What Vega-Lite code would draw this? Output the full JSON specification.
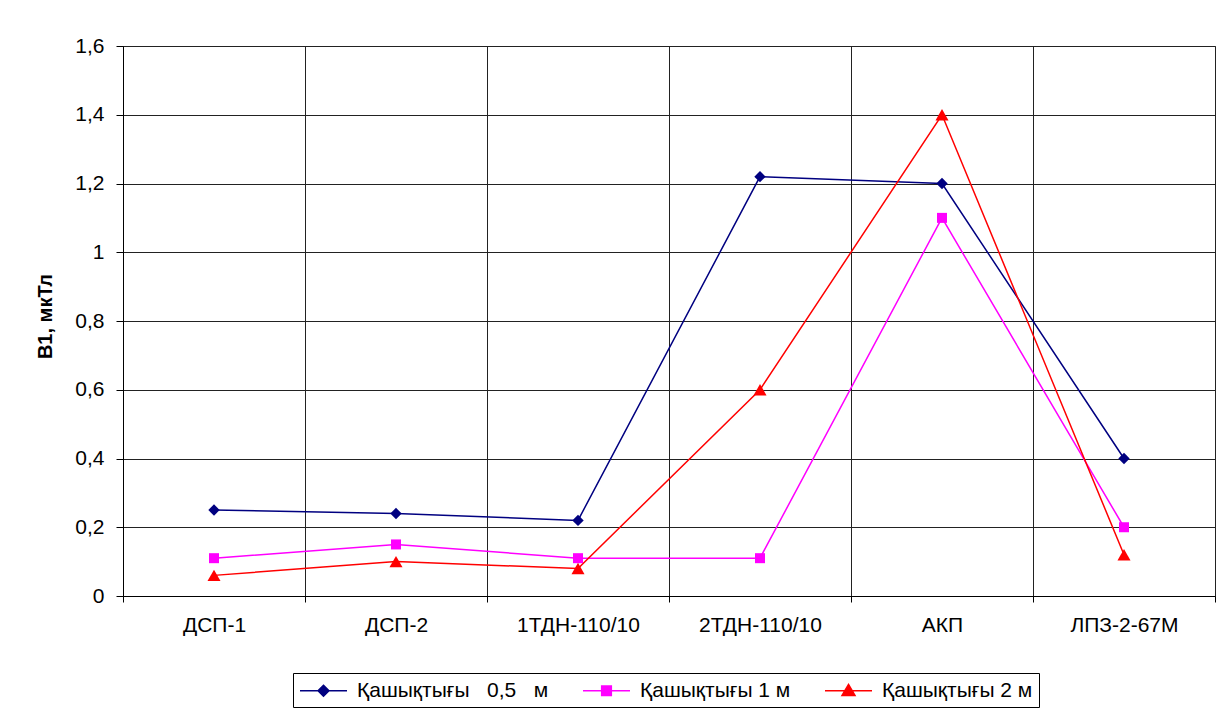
{
  "$schema": "https://vega.github.io/schema/vega-lite/v6.json",
  "width": 1092,
  "height": 550,
  "autosize": {"type": "none"},
  "padding": {"left": 123, "top": 46, "right": 6, "bottom": 112},
  "background": "white",
  "config": {
    "font": "Liberation Sans",
    "view": {"stroke": "#555555", "strokeWidth": 1}
  },
  "data": {
    "values": [
      {"cat": "ДСП-1", "series": "Қашықтығы  0,5  м", "value": 0.25},
      {"cat": "ДСП-2", "series": "Қашықтығы  0,5  м", "value": 0.24},
      {"cat": "1ТДН-110/10", "series": "Қашықтығы  0,5  м", "value": 0.22},
      {"cat": "2ТДН-110/10", "series": "Қашықтығы  0,5  м", "value": 1.22},
      {"cat": "АКП", "series": "Қашықтығы  0,5  м", "value": 1.2},
      {"cat": "ЛПЗ-2-67М", "series": "Қашықтығы  0,5  м", "value": 0.4},
      {"cat": "ДСП-1", "series": "Қашықтығы 1 м", "value": 0.11},
      {"cat": "ДСП-2", "series": "Қашықтығы 1 м", "value": 0.15},
      {"cat": "1ТДН-110/10", "series": "Қашықтығы 1 м", "value": 0.11},
      {"cat": "2ТДН-110/10", "series": "Қашықтығы 1 м", "value": 0.11},
      {"cat": "АКП", "series": "Қашықтығы 1 м", "value": 1.1},
      {"cat": "ЛПЗ-2-67М", "series": "Қашықтығы 1 м", "value": 0.2},
      {"cat": "ДСП-1", "series": "Қашықтығы 2 м", "value": 0.06},
      {"cat": "ДСП-2", "series": "Қашықтығы 2 м", "value": 0.1},
      {"cat": "1ТДН-110/10", "series": "Қашықтығы 2 м", "value": 0.08},
      {"cat": "2ТДН-110/10", "series": "Қашықтығы 2 м", "value": 0.6},
      {"cat": "АКП", "series": "Қашықтығы 2 м", "value": 1.4},
      {"cat": "ЛПЗ-2-67М", "series": "Қашықтығы 2 м", "value": 0.12}
    ]
  },
  "encoding": {
    "x": {
      "field": "cat",
      "type": "nominal",
      "sort": ["ДСП-1", "ДСП-2", "1ТДН-110/10", "2ТДН-110/10", "АКП", "ЛПЗ-2-67М"],
      "scale": {"type": "band", "paddingInner": 0, "paddingOuter": 0},
      "axis": {
        "title": null,
        "labelAngle": 0,
        "tickBand": "extent",
        "grid": true,
        "gridColor": "#222222",
        "gridOpacity": 1,
        "domainColor": "#000000",
        "tickColor": "#000000",
        "tickSize": 6,
        "labelFontSize": 21,
        "labelColor": "#000000",
        "labelPadding": 12
      }
    },
    "y": {
      "field": "value",
      "type": "quantitative",
      "scale": {"domain": [0, 1.6], "nice": false, "zero": true},
      "axis": {
        "title": "В1, мкТл",
        "titleFontSize": 20,
        "titleFontWeight": "bold",
        "titleColor": "#000000",
        "titleX": -78,
        "titleY": 270,
        "titleAngle": -90,
        "titleAlign": "center",
        "titleBaseline": "middle",
        "values": [0, 0.2, 0.4, 0.6, 0.8, 1, 1.2, 1.4, 1.6],
        "labelExpr": "datum.value == floor(datum.value) ? format(datum.value, 'd') : replace(format(datum.value, '.1f'), '.', ',')",
        "grid": true,
        "gridColor": "#222222",
        "gridOpacity": 1,
        "domainColor": "#000000",
        "tickColor": "#000000",
        "tickSize": 7,
        "labelFontSize": 21,
        "labelColor": "#000000",
        "labelPadding": 12
      }
    }
  },
  "layer": [
    {
      "mark": {"type": "line", "strokeWidth": 1.5},
      "encoding": {
        "color": {
          "field": "series",
          "type": "nominal",
          "sort": ["Қашықтығы  0,5  м", "Қашықтығы 1 м", "Қашықтығы 2 м"],
          "scale": {
            "domain": ["Қашықтығы  0,5  м", "Қашықтығы 1 м", "Қашықтығы 2 м"],
            "range": ["#000080", "#FF00FF", "#FF0000"]
          },
          "legend": {
            "title": null,
            "orient": "none",
            "legendX": 170,
            "legendY": 627,
            "direction": "horizontal",
            "columns": 3,
            "strokeColor": "#000000",
            "padding": 6,
            "labelFontSize": 21,
            "labelColor": "#000000",
            "labelLimit": 400,
            "labelExpr": "replace(datum.label, regexp('  ', 'g'), '\u00a0\u00a0\u00a0')",
            "symbolSize": 441,
            "symbolOffset": 13,
            "symbolStrokeWidth": 1.5,
            "columnPadding": 30,
            "labelOffset": 22,
            "encode": {
              "symbols": {
                "update": {
                  "shape": {"signal": "datum.index === 0 ? 'M-2.24,0H2.24M0,-0.52L0.52,0L0,0.52L-0.52,0Z' : datum.index === 1 ? 'M-2.24,0H2.24M-0.46,-0.46H0.46V0.46H-0.46Z' : 'M-2.24,0H2.24M0,-0.6L0.62,0.45H-0.62Z'"},
                  "fill": {"scale": "color", "field": "value"},
                  "stroke": {"scale": "color", "field": "value"},
                  "strokeWidth": {"value": 1.5},
                  "opacity": {"value": 1}
                }
              }
            }
          }
        }
      }
    },
    {
      "transform": [{"filter": "datum.series === 'Қашықтығы  0,5  м'"}],
      "mark": {"type": "point", "filled": true, "opacity": 1, "shape": "diamond", "color": "#000080", "size": 130}
    },
    {
      "transform": [{"filter": "datum.series === 'Қашықтығы 1 м'"}],
      "mark": {"type": "point", "filled": true, "opacity": 1, "shape": "square", "color": "#FF00FF", "size": 100}
    },
    {
      "transform": [{"filter": "datum.series === 'Қашықтығы 2 м'"}],
      "mark": {"type": "point", "filled": true, "opacity": 1, "shape": "triangle-up", "color": "#FF0000", "size": 170}
    }
  ]
}
